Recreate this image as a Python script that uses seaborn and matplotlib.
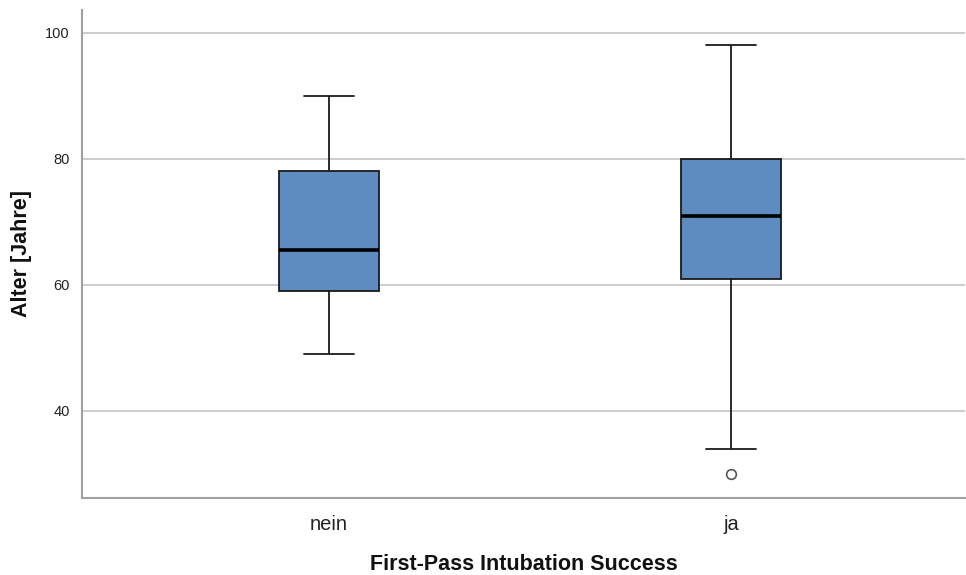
import matplotlib
matplotlib.use("Agg")
import matplotlib.pyplot as plt
import seaborn as sns
import pandas as pd

# values (quartiles, whiskers and outlier per group)
nein_alter = [49, 59, 65.5, 78, 90]
ja_alter = [30, 34, 61, 65, 71, 75, 80, 90, 98]
categories = ["nein", "ja"]
y_ticks = [40, 60, 80, 100]

df = pd.DataFrame({
    "erfolg": ["nein"] * len(nein_alter) + ["ja"] * len(ja_alter),
    "alter": nein_alter + ja_alter,
})

sns.set_theme(style="white")
plt.rcParams['font.family'] = ['Liberation Sans', 'DejaVu Sans']

fig = plt.figure(figsize=(9.66, 5.75), dpi=100)
ax = fig.add_axes([0.085, 0.134, 0.914, 0.849])

ax.yaxis.grid(True, color="#c8c8c8", linewidth=1.3, zorder=0)
ax.set_axisbelow(True)

sns.boxplot(data=df, x="erfolg", y="alter", order=categories, ax=ax,
            color="#5f8cc0", saturation=1, width=0.25, linewidth=1.3,
            linecolor="#1a1a1a",
            medianprops=dict(color="black", linewidth=2.6),
            flierprops=dict(marker="o", markersize=7, markerfacecolor="white",
                            markeredgecolor="#555555", markeredgewidth=1.2))

ax.set_xlim(-0.614, 1.582)
ax.set_ylim(26.2, 103.65)
ax.set_yticks(y_ticks)
ax.tick_params(axis="y", length=0, pad=9, labelsize=10.5, labelcolor="#222222")
ax.tick_params(axis="x", length=0, pad=12, labelsize=14.5, labelcolor="#222222")
for lbl in ax.get_xticklabels():
    lbl.set_family(['Liberation Sans Narrow', 'Liberation Sans', 'DejaVu Sans'])

for side in ["top", "right"]:
    ax.spines[side].set_visible(False)
for side in ["left", "bottom"]:
    ax.spines[side].set_color("#a0a0a0")
    ax.spines[side].set_linewidth(1.5)

ax.set_xlabel("First-Pass Intubation Success", fontsize=15.5, fontweight="bold",
              labelpad=15, color="#111111")
ax.set_ylabel("Alter [Jahre]", fontsize=15.5, fontweight="bold", labelpad=9,
              color="#111111")

fig.savefig("out.png", dpi=100)
